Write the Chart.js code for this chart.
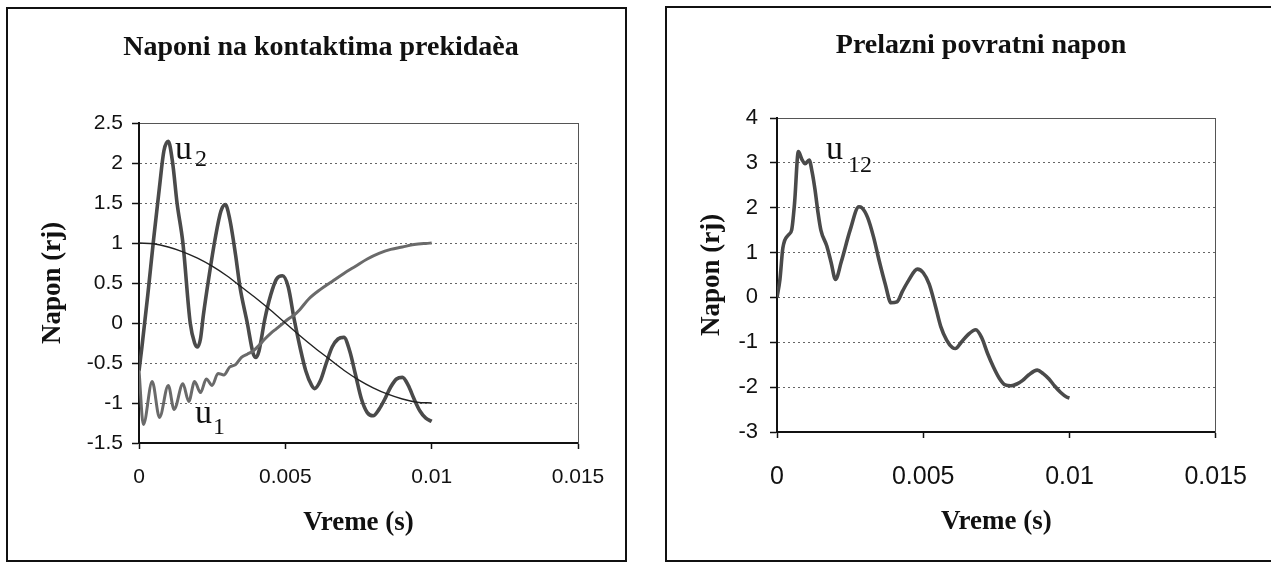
<!DOCTYPE html>
<html>
<head>
<meta charset="utf-8">
<script src="https://cdn.jsdelivr.net/npm/chart.js@4.4.0/dist/chart.umd.min.js"></script>
<style>
html,body{margin:0;padding:0;background:#fff;}
body{width:1271px;height:566px;position:relative;overflow:hidden;}
.frame{position:absolute;border:2px solid #111;box-sizing:border-box;}
.wrap{position:absolute;top:0;}
canvas{display:block;}
</style>
</head>
<body>
<div class="frame" style="left:6px;top:7px;width:621px;height:555px;"></div>
<div class="frame" style="left:665px;top:6px;width:620px;height:556px;"></div>
<div class="wrap" style="left:0;width:640px;height:566px;"><canvas id="c1" width="640" height="566" style="width:640px;height:566px"></canvas></div>
<div class="wrap" style="left:640px;width:631px;height:566px;"><canvas id="c2" width="631" height="566" style="width:631px;height:566px"></canvas></div>
<script>
// ---------- data ----------
const xTicks = [0, 0.005, 0.01, 0.015];
const xTickLabels = ['0', '0.005', '0.01', '0.015'];
const yTicksLeft = [-1.5, -1, -0.5, 0, 0.5, 1, 1.5, 2, 2.5];
const yTickLabelsLeft = ['-1.5', '-1', '-0.5', '0', '0.5', '1', '1.5', '2', '2.5'];
const yTicksRight = [-3, -2, -1, 0, 1, 2, 3, 4];
const yTickLabelsRight = ['-3', '-2', '-1', '0', '1', '2', '3', '4'];

// source voltage (thin curve)
const tSrc = [0, 0.0005, 0.001, 0.0015, 0.002, 0.0025, 0.003, 0.0035, 0.004, 0.0045, 0.005,
              0.0055, 0.006, 0.0065, 0.007, 0.0075, 0.008, 0.0085, 0.009, 0.0095, 0.01];
const uSrc = [1, 0.99, 0.95, 0.89, 0.81, 0.71, 0.59, 0.45, 0.31, 0.16, 0,
              -0.16, -0.31, -0.45, -0.59, -0.71, -0.81, -0.89, -0.95, -0.99, -1];

// u1
const tU1 = [0, 0.00015, 0.00045, 0.0007, 0.001, 0.0012, 0.0015, 0.0017, 0.0019, 0.0021, 0.0023,
             0.0025, 0.0027, 0.0029, 0.0031, 0.0033, 0.0035, 0.0037, 0.0039, 0.0041, 0.0043,
             0.0045, 0.0047, 0.0049, 0.0051, 0.0053, 0.0055, 0.0058, 0.0062, 0.0066, 0.007,
             0.0074, 0.0078, 0.0082, 0.0086, 0.009, 0.0094, 0.0098, 0.01];
const u1 = [-0.59, -1.27, -0.73, -1.18, -0.78, -1.08, -0.76, -0.98, -0.73, -0.87, -0.70,
            -0.78, -0.63, -0.65, -0.55, -0.52, -0.43, -0.39, -0.35, -0.28, -0.2,
            -0.13, -0.07, -0.01, 0.05, 0.1, 0.17, 0.3, 0.42, 0.52, 0.62,
            0.71, 0.8, 0.87, 0.92, 0.95, 0.98, 0.995, 1.0];

// u2
const tU2 = [0, 0.0001, 0.0003, 0.0005, 0.0007, 0.00085, 0.001, 0.00115, 0.0013, 0.0015, 0.00175,
             0.0019, 0.002, 0.0021, 0.0022, 0.0024, 0.0026, 0.0028, 0.00295, 0.0031, 0.0033,
             0.00345, 0.0037, 0.0039, 0.004, 0.0041, 0.0043, 0.0045, 0.0047, 0.0049, 0.0051,
             0.0053, 0.0055, 0.0057, 0.0059, 0.006, 0.0062, 0.0064, 0.0066, 0.0068, 0.007,
             0.0072, 0.0074, 0.0076, 0.0078, 0.008, 0.0082, 0.0084, 0.0086, 0.0088, 0.009,
             0.0092, 0.0094, 0.0096, 0.0098, 0.01];
const u2 = [-0.6, -0.3, 0.35, 1.05, 1.7, 2.15, 2.27, 2.0, 1.5, 1.0, 0.0,
            -0.25, -0.3, -0.2, 0.1, 0.6, 1.05, 1.4, 1.48, 1.3, 0.85,
            0.45, 0.0, -0.38, -0.43, -0.35, 0.05, 0.35, 0.55, 0.59, 0.45,
            0.05, -0.3, -0.6, -0.78, -0.82, -0.72, -0.5, -0.3, -0.2, -0.18,
            -0.35, -0.65, -0.95, -1.12, -1.16, -1.08, -0.95, -0.8, -0.7, -0.68,
            -0.78, -0.95, -1.1, -1.19, -1.23];

// u12
const tU12 = [0, 0.0001, 0.0002, 0.0004, 0.0005, 0.0006, 0.00073, 0.00085, 0.00096, 0.0011, 0.0012,
              0.0013, 0.0014, 0.0015, 0.0017, 0.00185, 0.002, 0.0022, 0.0025, 0.0028, 0.0029, 0.0031,
              0.0033, 0.0035, 0.0037, 0.0039, 0.0041, 0.0043, 0.0045, 0.0048, 0.005, 0.0052,
              0.0054, 0.0056, 0.0058, 0.006, 0.0061, 0.0063, 0.0065, 0.0068, 0.007, 0.0072,
              0.0074, 0.0076, 0.0078, 0.008, 0.0082, 0.0084, 0.0086, 0.0089, 0.0091, 0.0093,
              0.0095, 0.0097, 0.0099, 0.01];
const u12 = [0, 0.4, 1.1, 1.4, 1.5, 2.1, 3.25, 3.08, 2.98, 3.06, 2.8,
             2.4, 1.9, 1.5, 1.15, 0.78, 0.4, 0.8, 1.5, 2.02, 2.0, 1.78,
             1.35, 0.8, 0.3, -0.12, -0.1, 0.15, 0.38, 0.63, 0.55, 0.3,
             -0.15, -0.65, -0.95, -1.12, -1.14, -1.0, -0.85, -0.72, -0.9, -1.25,
             -1.55, -1.8, -1.95, -1.97, -1.93, -1.85, -1.73, -1.62, -1.7, -1.82,
             -1.98, -2.12, -2.22, -2.24];

// ---------- helpers ----------
const SERIF = "'Liberation Serif', 'Times New Roman', serif";
const SANS = "'Liberation Sans', Arial, sans-serif";
const pts = (ts, vs) => ts.map((t, i) => ({x: t, y: vs[i]}));

const seriesLabels = {
  id: 'seriesLabels',
  afterDatasetsDraw(chart, args, opts) {
    const ctx = chart.ctx;
    (opts.items || []).forEach(it => {
      ctx.save();
      ctx.fillStyle = '#111';
      ctx.textAlign = 'left';
      ctx.textBaseline = 'alphabetic';
      ctx.font = '34px ' + SERIF;
      ctx.fillText(it.main, it.x, it.y);
      ctx.font = '24px ' + SERIF;
      ctx.fillText(it.sub, it.sx, it.sy);
      ctx.restore();
    });
  }
};

function buildOptions(cfg) {
  return {
    responsive: false,
    animation: false,
    devicePixelRatio: 1,
    layout: {padding: {left: cfg.padL, right: cfg.padR, top: 0, bottom: 0}},
    plugins: {
      legend: {display: false},
      tooltip: {enabled: false},
      title: {
        display: true, text: cfg.title, color: '#111',
        font: {family: SERIF, size: 28, weight: 'bold'},
        padding: {top: cfg.titlePadTop, bottom: cfg.titlePadBottom}
      },
      seriesLabels: {items: cfg.labels}
    },
    scales: {
      x: {
        type: 'linear', position: 'bottom', min: 0, max: 0.015,
        afterBuildTicks: s => { s.ticks = xTicks.map(v => ({value: v})); },
        afterFit: s => { s.height = cfg.xH; },
        ticks: {
          callback: (v, i) => xTickLabels[i], color: '#111',
          font: {family: SANS, size: cfg.xTickSize}, padding: cfg.xTickPad,
          maxRotation: 0, autoSkip: false
        },
        grid: {drawOnChartArea: false, drawTicks: true, tickLength: 6, tickColor: '#111', tickWidth: 1.5},
        border: {display: true, color: '#111', width: 2},
        title: {
          display: true, text: 'Vreme (s)', color: '#111',
          font: {family: SERIF, size: 27, weight: 'bold'},
          padding: {top: 0, bottom: cfg.xTitlePadB}
        }
      },
      x2: {
        type: 'linear', axis: 'x', position: 'top', min: 0, max: 0.015,
        afterFit: s => { s.height = 0; },
        ticks: {display: false},
        grid: {display: false},
        border: {display: true, color: '#555', width: 1}
      },
      y: {
        type: 'linear', position: 'left', min: cfg.yMin, max: cfg.yMax,
        afterBuildTicks: s => { s.ticks = cfg.yTicks.map(v => ({value: v})); },
        afterFit: s => { s.width = cfg.yW; },
        ticks: {
          callback: (v, i) => cfg.yLabels[i], color: '#111',
          font: {family: SANS, size: cfg.yTickSize}, padding: cfg.yTickPad
        },
        grid: {color: '#666', lineWidth: 1, tickColor: '#111', tickLength: 7, tickWidth: 1.5, tickBorderDash: []},
        border: {display: true, color: '#111', width: 2, dash: [2, 3]},
        title: {
          display: true, text: 'Napon (rj)', color: '#111',
          font: {family: SERIF, size: 27, weight: 'bold'},
          padding: {top: cfg.yTitlePadT, bottom: 0}
        }
      },
      y2: {
        type: 'linear', axis: 'y', position: 'right', min: cfg.yMin, max: cfg.yMax,
        afterFit: s => { s.width = 0; },
        ticks: {display: false},
        grid: {display: false},
        border: {display: true, color: '#555', width: 1}
      }
    }
  };
}

const lineDs = (data, color, width) => ({
  data, borderColor: color, borderWidth: width, pointRadius: 0,
  fill: false, cubicInterpolationMode: 'monotone', xAxisID: 'x', yAxisID: 'y'
});

new Chart(document.getElementById('c1'), {
  type: 'line',
  data: {
    datasets: [
      lineDs(pts(tSrc, uSrc), '#222', 1.4),
      lineDs(pts(tU1, u1), '#6a6a6a', 3),
      lineDs(pts(tU2, u2), '#4a4a4a', 3.6)
    ]
  },
  options: buildOptions({
    title: 'Naponi na kontaktima prekida\u00e8a',
    padL: 64, padR: 62, yW: 75, xH: 123,
    titlePadTop: 31.2, titlePadBottom: 58.2,
    xTickSize: 21, xTickPad: 15.4, xTitlePadB: 26.8,
    yMin: -1.5, yMax: 2.5, yTicks: yTicksLeft, yLabels: yTickLabelsLeft,
    yTickSize: 21, yTickPad: 9, yTitlePadT: -27.2,
    labels: [
      {main: 'u', x: 175, y: 159, sub: '2', sx: 195, sy: 166},
      {main: 'u', x: 195, y: 423, sub: '1', sx: 213, sy: 434}
    ]
  }),
  plugins: [seriesLabels]
});

new Chart(document.getElementById('c2'), {
  type: 'line',
  data: {
    datasets: [
      lineDs(pts(tU12, u12), '#4a4a4a', 3.6)
    ]
  },
  options: buildOptions({
    title: 'Prelazni povratni napon',
    padL: 96, padR: 45, yW: 41, xH: 134,
    titlePadTop: 29.2, titlePadBottom: 55.2,
    xTickSize: 25, xTickPad: 24, xTitlePadB: 27.8,
    yMin: -3, yMax: 4, yTicks: yTicksRight, yLabels: yTickLabelsRight,
    yTickSize: 22, yTickPad: 12, yTitlePadT: -40.2,
    labels: [
      {main: 'u', x: 186, y: 159, sub: '12', sx: 208, sy: 172}
    ]
  }),
  plugins: [seriesLabels]
});
</script>
</body>
</html>
